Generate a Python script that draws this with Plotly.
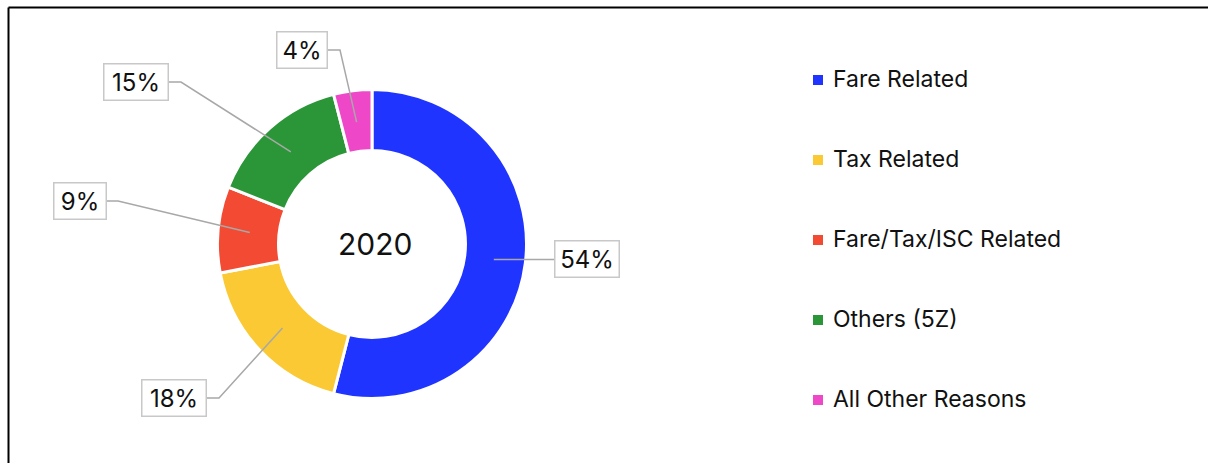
import math
import plotly.graph_objects as go

# ---- data ----
categories = ["Fare Related", "Tax Related", "Fare/Tax/ISC Related", "Others (5Z)", "All Other Reasons"]
values = [54, 18, 9, 15, 4]
colors = ["#1F35FF", "#FAC933", "#F24A33", "#2A9638", "#EE48C8"]
center_label = "2020"

# ---- layout constants (pixels) ----
W, H = 1208, 463
CX, CY = 372, 244          # donut centre
R_OUT = 153
HOLE = 0.605
R_ANCHOR = R_OUT * (1 + HOLE) / 2

# label boxes: centre (px), box width (px), elbow point (px) or None
label_boxes = [
    dict(cx=587, cy=259, w=66, elbow=None),
    dict(cx=174, cy=398, w=66, elbow=(219, 398)),
    dict(cx=80, cy=201, w=54, elbow=(118, 201)),
    dict(cx=136, cy=82, w=66, elbow=(181, 82)),
    dict(cx=302, cy=50, w=52, elbow=(340, 50)),
]
BOX_H = 38

def px(x):
    return x / W

def py(y):
    return 1 - y / H

fig = go.Figure()
fig.add_trace(go.Pie(
    labels=categories,
    values=values,
    hole=HOLE,
    sort=False,
    direction="clockwise",
    rotation=0,
    marker=dict(colors=colors, line=dict(color="white", width=3)),
    textinfo="none",
    showlegend=False,
    domain=dict(x=[px(CX - R_OUT - 1.5), px(CX + R_OUT + 1.5)],
                y=[py(CY + R_OUT + 1.5), py(CY - R_OUT - 1.5)]),
))

shapes = []
annotations = []

# leader lines + boxed percentage labels
total = sum(values)
cum = 0
for v, box in zip(values, label_boxes):
    mid = (cum + v / 2) / total
    cum += v
    ang = 2 * math.pi * mid
    ax_ = CX + R_ANCHOR * math.sin(ang)
    ay_ = CY - R_ANCHOR * math.cos(ang)
    if box["elbow"] is None:
        pts = [(ax_, ay_), (box["cx"] - box["w"] / 2, ay_)]
    else:
        ex, ey = box["elbow"]
        pts = [(ax_, ay_), (ex, ey), (box["cx"] + box["w"] / 2, ey)]
    path = "M " + " L ".join(f"{px(x):.5f},{py(y):.5f}" for x, y in pts)
    shapes.append(dict(type="path", xref="paper", yref="paper", path=path,
                       line=dict(color="#A8A8A8", width=1.5)))
    annotations.append(dict(
        x=px(box["cx"]), y=py(box["cy"]), xref="paper", yref="paper",
        xanchor="center", yanchor="middle", showarrow=False,
        text=f"{round(100 * v / total)}%",
        font=dict(family="Inter", size=24, color="#111111"),
        bgcolor="white", bordercolor="#C8C8C8", borderwidth=1.5, borderpad=4,
        width=box["w"] - 11, height=BOX_H - 11,
    ))

# centre text
annotations.append(dict(x=px(CX + 3), y=py(CY), xref="paper", yref="paper",
                        xanchor="center", yanchor="middle", showarrow=False,
                        text=center_label,
                        font=dict(family="Inter", size=30, color="#111111")))

# legend (manual, to match the wide spacing)
LEG_X, LEG_Y0, LEG_DY = 813, 79, 80
for i, (cat, col) in enumerate(zip(categories, colors)):
    yc = LEG_Y0 + i * LEG_DY
    shapes.append(dict(type="rect", xref="paper", yref="paper",
                       x0=px(LEG_X), x1=px(LEG_X + 10), y0=py(yc + 6), y1=py(yc - 4),
                       fillcolor=col, line=dict(width=0)))
    annotations.append(dict(x=px(LEG_X + 18), y=py(yc), xref="paper", yref="paper",
                            xanchor="left", yanchor="middle", showarrow=False,
                            text=cat, font=dict(family="Inter", size=23, color="#111111")))

# frame lines (top and left)
shapes.append(dict(type="line", xref="paper", yref="paper", x0=px(8.5), x1=1, y0=py(7.5), y1=py(7.5),
                   line=dict(color="black", width=2)))
shapes.append(dict(type="line", xref="paper", yref="paper", x0=px(8.5), x1=px(8.5), y0=py(7.5), y1=0,
                   line=dict(color="black", width=2)))

fig.update_layout(
    width=W, height=H,
    margin=dict(l=0, r=0, t=0, b=0),
    paper_bgcolor="white", plot_bgcolor="white",
    shapes=shapes, annotations=annotations,
    font=dict(family="Inter"),
)

fig.write_html("out.html")
